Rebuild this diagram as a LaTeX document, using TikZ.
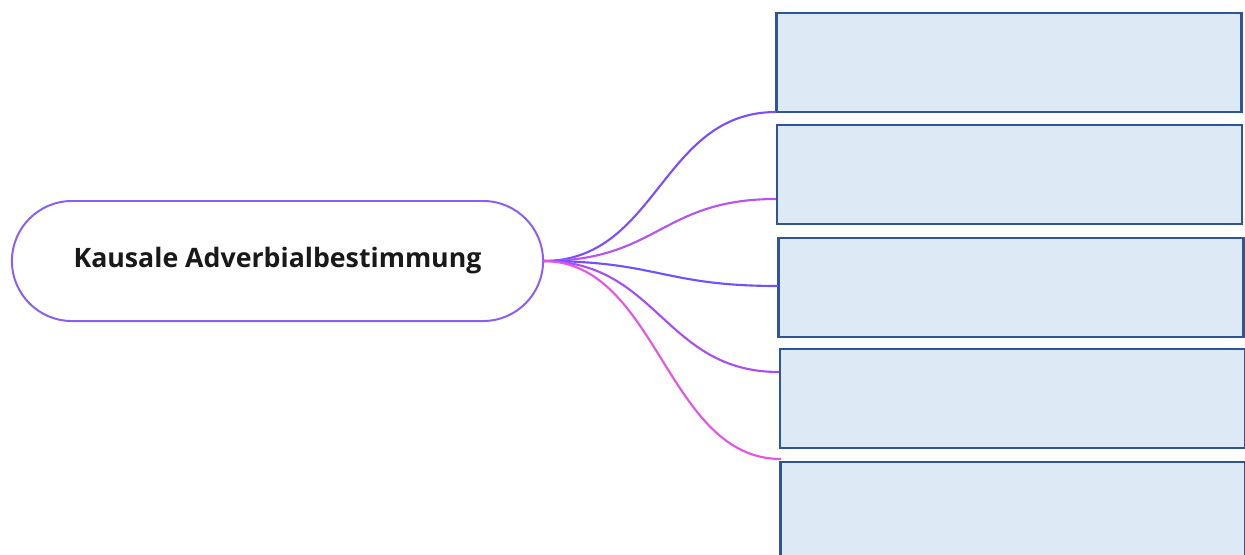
\documentclass[tikz,border=0pt]{standalone}
\usepackage{fontspec}
\usepackage{tikz}
\newfontfamily\mapfont{Open Sans}

\definecolor{boxfill}{HTML}{DEE9F6}
\definecolor{boxline}{HTML}{2F5597}
\definecolor{rootline}{HTML}{8B5CF6}
\definecolor{linkA}{HTML}{7B4DFF}
\definecolor{linkB}{HTML}{B653F2}
\definecolor{linkC}{HTML}{7050FF}
\definecolor{linkD}{HTML}{A64DF5}
\definecolor{linkE}{HTML}{E653E6}

\begin{document}
\begin{tikzpicture}[x=0.025cm, y=-0.025cm,
  every node/.style={outer sep=0pt},
  slot/.style={draw=boxline, fill=boxfill, line width=1.8pt, minimum width=11.625cm, minimum height=2.475cm},
  link/.style={line width=1.5pt}]
\useasboundingbox (0,0) rectangle (1245,554);
\clip (0,0) rectangle (1245,554);

\node[draw=rootline, line width=1.4pt, rounded corners=1.5cm, minimum width=13.275cm, minimum height=3cm,
  font=\mapfont\bfseries\fontsize{19}{23}\selectfont, text=black!90] (root) at (277.5,261) {Kausale Adverbialbestimmung};

\node[slot] (slot1) at (1009,62.5) {};
\node[slot] (slot2) at (1009.5,174.5) {};
\node[slot] (slot3) at (1011,287.5) {};
\node[slot] (slot4) at (1012.5,398.5) {};
\node[slot] (slot5) at (1013,511.5) {};

\coordinate (end1) at (776,112);
\coordinate (end2) at (776,199);
\coordinate (end3) at (778,286);
\coordinate (end4) at (779,372);
\coordinate (end5) at (781,459);

\draw[link, linkA] (root.east) .. controls +(115,0) and +(-115,0) .. (end1);
\draw[link, linkB] (root.east) .. controls +(115,0) and +(-115,0) .. (end2);
\draw[link, linkC] (root.east) .. controls +(115,0) and +(-115,0) .. (end3);
\draw[link, linkD] (root.east) .. controls +(115,0) and +(-115,0) .. (end4);
\draw[link, linkE] (root.east) .. controls +(115,0) and +(-115,0) .. (end5);
\end{tikzpicture}
\end{document}
